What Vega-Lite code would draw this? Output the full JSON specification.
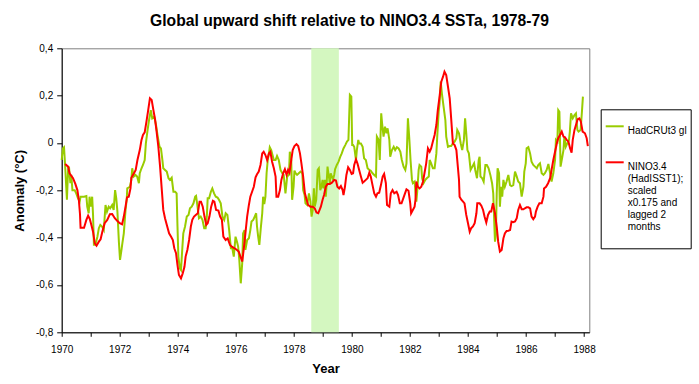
{
  "$schema": "https://vega.github.io/schema/vega-lite/v6.json",
  "width": 527.6,
  "height": 284,
  "autosize": "none",
  "padding": {"left": 61.7, "top": 48.3, "right": 109.7, "bottom": 51.7},
  "background": "white",
  "title": {"text": "Global upward shift relative to NINO3.4 SSTa, 1978-79", "font": "Liberation Sans", "fontSize": 15.7, "fontWeight": "bold", "color": "black", "anchor": "middle", "frame": "group", "dx": 24, "offset": 14},
  "config": {
    "view": {"stroke": "#808080", "strokeWidth": 1},
    "font": "Liberation Sans",
    "axis": {"domainColor": "black", "tickColor": "black", "labelColor": "black", "titleColor": "black", "grid": false, "labelFont": "Liberation Sans", "labelFontSize": 10, "titleFont": "Liberation Sans", "titleFontSize": 13, "titleFontWeight": "bold"}
  },
  "datasets": {
    "band": [{"start": 1978.6, "end": 1979.55}],
    "had": [
      {"t":1970.00,"v":-0.072},{"t":1970.04,"v":-0.023},{"t":1970.08,"v":-0.018},{"t":1970.12,"v":-0.10},{"t":1970.18,"v":-0.24},{"t":1970.22,"v":-0.114},{"t":1970.25,"v":-0.10},{"t":1970.30,"v":-0.17},{"t":1970.33,"v":-0.135},{"t":1970.37,"v":-0.20},{"t":1970.45,"v":-0.20},{"t":1970.50,"v":-0.213},{"t":1970.56,"v":-0.233},{"t":1970.62,"v":-0.248},{"t":1970.65,"v":-0.227},{"t":1970.77,"v":-0.227},{"t":1970.85,"v":-0.224},{"t":1970.88,"v":-0.269},{"t":1970.93,"v":-0.297},{"t":1970.96,"v":-0.227},{"t":1971.00,"v":-0.269},{"t":1971.05,"v":-0.227},{"t":1971.08,"v":-0.304},{"t":1971.11,"v":-0.43},{"t":1971.16,"v":-0.43},{"t":1971.23,"v":-0.396},{"t":1971.28,"v":-0.36},{"t":1971.33,"v":-0.346},{"t":1971.39,"v":-0.353},{"t":1971.45,"v":-0.368},{"t":1971.51,"v":-0.262},{"t":1971.56,"v":-0.29},{"t":1971.62,"v":-0.269},{"t":1971.67,"v":-0.276},{"t":1971.74,"v":-0.262},{"t":1971.79,"v":-0.283},{"t":1971.84,"v":-0.199},{"t":1971.88,"v":-0.234},{"t":1971.92,"v":-0.29},{"t":1971.97,"v":-0.417},{"t":1972.01,"v":-0.494},{"t":1972.06,"v":-0.452},{"t":1972.09,"v":-0.424},{"t":1972.14,"v":-0.382},{"t":1972.20,"v":-0.283},{"t":1972.24,"v":-0.24},{"t":1972.26,"v":-0.192},{"t":1972.35,"v":-0.185},{"t":1972.40,"v":-0.156},{"t":1972.43,"v":-0.107},{"t":1972.48,"v":-0.142},{"t":1972.54,"v":-0.135},{"t":1972.60,"v":-0.142},{"t":1972.66,"v":-0.17},{"t":1972.69,"v":-0.128},{"t":1972.75,"v":-0.107},{"t":1972.80,"v":-0.093},{"t":1972.86,"v":-0.072},
      {"t":1972.90,"v":-0.002},{"t":1972.96,"v":0.055},{"t":1973.01,"v":0.097},{"t":1973.07,"v":0.139},{"t":1973.12,"v":0.104},{"t":1973.19,"v":0.111},{"t":1973.25,"v":0.076},{"t":1973.31,"v":0.027},{"t":1973.37,"v":-0.016},{"t":1973.42,"v":-0.023},{"t":1973.47,"v":-0.072},{"t":1973.50,"v":-0.107},{"t":1973.56,"v":-0.114},{"t":1973.62,"v":-0.121},{"t":1973.68,"v":-0.149},{"t":1973.73,"v":-0.156},{"t":1973.79,"v":-0.147},{"t":1973.85,"v":-0.206},{"t":1973.91,"v":-0.206},{"t":1973.96,"v":-0.213},{"t":1973.99,"v":-0.353},{"t":1974.02,"v":-0.48},{"t":1974.07,"v":-0.53},{"t":1974.11,"v":-0.537},{"t":1974.16,"v":-0.438},{"t":1974.19,"v":-0.382},{"t":1974.25,"v":-0.353},{"t":1974.31,"v":-0.311},{"t":1974.37,"v":-0.304},{"t":1974.42,"v":-0.276},{"t":1974.48,"v":-0.269},{"t":1974.54,"v":-0.255},{"t":1974.60,"v":-0.227},{"t":1974.63,"v":-0.224},{"t":1974.68,"v":-0.269},{"t":1974.73,"v":-0.318},{"t":1974.79,"v":-0.311},{"t":1974.85,"v":-0.325},{"t":1974.91,"v":-0.36},{"t":1974.96,"v":-0.36},{"t":1975.00,"v":-0.311},{"t":1975.03,"v":-0.234},{"t":1975.08,"v":-0.234},{"t":1975.14,"v":-0.206},{"t":1975.19,"v":-0.192},{"t":1975.25,"v":-0.213},{"t":1975.31,"v":-0.227},{"t":1975.37,"v":-0.231},{"t":1975.42,"v":-0.24},{"t":1975.48,"v":-0.255},{"t":1975.54,"v":-0.311},{"t":1975.60,"v":-0.325},{"t":1975.65,"v":-0.297},{"t":1975.71,"v":-0.304},{"t":1975.77,"v":-0.368},{"t":1975.83,"v":-0.445},{"t":1975.88,"v":-0.445},
      {"t":1975.93,"v":-0.48},{"t":1975.99,"v":-0.396},{"t":1976.04,"v":-0.417},{"t":1976.08,"v":-0.438},{"t":1976.12,"v":-0.494},{"t":1976.17,"v":-0.593},{"t":1976.22,"v":-0.508},{"t":1976.25,"v":-0.382},{"t":1976.30,"v":-0.368},{"t":1976.33,"v":-0.452},{"t":1976.39,"v":-0.41},{"t":1976.45,"v":-0.403},{"t":1976.50,"v":-0.368},{"t":1976.54,"v":-0.332},{"t":1976.60,"v":-0.325},{"t":1976.65,"v":-0.311},{"t":1976.70,"v":-0.297},{"t":1976.73,"v":-0.353},{"t":1976.77,"v":-0.396},{"t":1976.81,"v":-0.431},{"t":1976.86,"v":-0.36},{"t":1976.91,"v":-0.297},{"t":1976.94,"v":-0.227},{"t":1976.98,"v":-0.258},{"t":1977.02,"v":-0.227},{"t":1977.06,"v":-0.128},{"t":1977.10,"v":-0.072},{"t":1977.14,"v":-0.044},{"t":1977.17,"v":-0.018},{"t":1977.22,"v":-0.03},{"t":1977.25,"v":-0.044},{"t":1977.31,"v":-0.072},{"t":1977.37,"v":-0.072},{"t":1977.42,"v":-0.055},{"t":1977.48,"v":-0.072},{"t":1977.54,"v":-0.114},{"t":1977.60,"v":-0.128},{"t":1977.65,"v":-0.135},{"t":1977.71,"v":-0.213},{"t":1977.77,"v":-0.142},{"t":1977.83,"v":-0.135},{"t":1977.86,"v":-0.037},{"t":1977.91,"v":-0.072},{"t":1977.94,"v":-0.24},{"t":1977.99,"v":-0.185},{"t":1978.02,"v":-0.117},{"t":1978.06,"v":-0.128},{"t":1978.11,"v":-0.135},{"t":1978.17,"v":-0.128},{"t":1978.23,"v":-0.121},{"t":1978.29,"v":-0.128},{"t":1978.32,"v":-0.199},{"t":1978.37,"v":-0.22},{"t":1978.40,"v":-0.255},{"t":1978.46,"v":-0.262},{"t":1978.52,"v":-0.213},{"t":1978.57,"v":-0.248},{"t":1978.61,"v":-0.311},{"t":1978.65,"v":-0.283},{"t":1978.69,"v":-0.192},{"t":1978.72,"v":-0.269},{"t":1978.77,"v":-0.24},{"t":1978.82,"v":-0.114},{"t":1978.86,"v":-0.107},
      {"t":1978.91,"v":-0.199},{"t":1978.95,"v":-0.185},{"t":1978.99,"v":-0.156},{"t":1979.02,"v":-0.192},{"t":1979.07,"v":-0.156},{"t":1979.10,"v":-0.227},{"t":1979.13,"v":-0.17},{"t":1979.16,"v":-0.10},{"t":1979.19,"v":-0.128},{"t":1979.24,"v":-0.17},{"t":1979.27,"v":-0.128},{"t":1979.31,"v":-0.142},{"t":1979.35,"v":-0.153},{"t":1979.39,"v":-0.135},{"t":1979.42,"v":-0.111},{"t":1979.48,"v":-0.093},{"t":1979.54,"v":-0.079},{"t":1979.60,"v":-0.058},{"t":1979.65,"v":-0.044},{"t":1979.71,"v":-0.023},{"t":1979.77,"v":-0.009},{"t":1979.83,"v":0.006},{"t":1979.88,"v":0.013},{"t":1979.93,"v":0.203},{"t":1979.98,"v":0.196},{"t":1980.01,"v":-0.009},{"t":1980.04,"v":-0.009},{"t":1980.08,"v":-0.016},{"t":1980.14,"v":-0.072},{"t":1980.17,"v":-0.03},{"t":1980.22,"v":0.013},{"t":1980.25,"v":-0.002},{"t":1980.31,"v":-0.002},{"t":1980.37,"v":-0.016},{"t":1980.42,"v":-0.065},{"t":1980.48,"v":-0.072},{"t":1980.54,"v":-0.107},{"t":1980.60,"v":-0.114},{"t":1980.65,"v":-0.117},{"t":1980.71,"v":-0.128},{"t":1980.77,"v":-0.135},{"t":1980.83,"v":-0.142},{"t":1980.86,"v":0.027},{"t":1980.92,"v":0.013},{"t":1980.96,"v":-0.072},{"t":1981.01,"v":0.125},{"t":1981.04,"v":0.083},{"t":1981.09,"v":0.027},{"t":1981.14,"v":0.069},{"t":1981.19,"v":0.041},{"t":1981.23,"v":0.062},{"t":1981.29,"v":0.013},{"t":1981.32,"v":-0.058},{"t":1981.38,"v":-0.03},{"t":1981.44,"v":-0.016},{"t":1981.49,"v":-0.03},{"t":1981.55,"v":-0.018},{"t":1981.61,"v":-0.023},{"t":1981.67,"v":-0.037},{"t":1981.72,"v":-0.072},{"t":1981.78,"v":-0.10},{"t":1981.84,"v":-0.114},{"t":1981.88,"v":-0.086},{"t":1981.93,"v":0.104},{"t":1981.98,"v":0.013},
      {"t":1982.02,"v":-0.072},{"t":1982.07,"v":-0.156},{"t":1982.10,"v":-0.17},{"t":1982.16,"v":-0.163},{"t":1982.22,"v":-0.248},{"t":1982.25,"v":-0.206},{"t":1982.30,"v":-0.114},{"t":1982.33,"v":-0.093},{"t":1982.39,"v":-0.10},{"t":1982.42,"v":-0.149},{"t":1982.47,"v":-0.17},{"t":1982.53,"v":-0.156},{"t":1982.58,"v":-0.149},{"t":1982.65,"v":-0.142},{"t":1982.68,"v":-0.072},{"t":1982.73,"v":-0.086},{"t":1982.79,"v":-0.107},{"t":1982.85,"v":-0.107},{"t":1982.91,"v":-0.044},{"t":1982.94,"v":0.027},{"t":1982.99,"v":0.132},{"t":1983.02,"v":0.167},{"t":1983.06,"v":0.259},{"t":1983.10,"v":0.21},{"t":1983.16,"v":0.153},{"t":1983.22,"v":0.097},{"t":1983.25,"v":0.027},{"t":1983.31,"v":-0.016},{"t":1983.37,"v":-0.013},{"t":1983.42,"v":-0.013},{"t":1983.48,"v":-0.002},{"t":1983.54,"v":0.006},{"t":1983.60,"v":0.02},{"t":1983.63,"v":0.055},{"t":1983.69,"v":0.041},{"t":1983.75,"v":-0.002},{"t":1983.80,"v":-0.03},{"t":1983.86,"v":0.013},{"t":1983.90,"v":0.104},{"t":1983.94,"v":0.041},{"t":1983.98,"v":-0.03},{"t":1984.03,"v":-0.044},{"t":1984.09,"v":-0.114},{"t":1984.15,"v":-0.10},{"t":1984.21,"v":-0.086},{"t":1984.25,"v":-0.114},{"t":1984.31,"v":-0.149},{"t":1984.37,"v":-0.072},{"t":1984.40,"v":-0.058},{"t":1984.43,"v":-0.142},{"t":1984.49,"v":-0.149},{"t":1984.54,"v":-0.163},{"t":1984.60,"v":-0.093},{"t":1984.65,"v":-0.093},{"t":1984.71,"v":-0.107},{"t":1984.77,"v":-0.135},{"t":1984.83,"v":-0.17},
      {"t":1984.87,"v":-0.213},{"t":1984.91,"v":-0.353},{"t":1984.93,"v":-0.417},{"t":1984.96,"v":-0.389},{"t":1984.99,"v":-0.213},{"t":1985.02,"v":-0.107},{"t":1985.07,"v":-0.128},{"t":1985.10,"v":-0.269},{"t":1985.14,"v":-0.185},{"t":1985.18,"v":-0.227},{"t":1985.22,"v":-0.156},{"t":1985.27,"v":-0.185},{"t":1985.33,"v":-0.163},{"t":1985.39,"v":-0.135},{"t":1985.45,"v":-0.178},{"t":1985.50,"v":-0.182},{"t":1985.56,"v":-0.178},{"t":1985.62,"v":-0.121},{"t":1985.68,"v":-0.142},{"t":1985.73,"v":-0.163},{"t":1985.79,"v":-0.17},{"t":1985.85,"v":-0.227},{"t":1985.91,"v":-0.185},{"t":1985.94,"v":-0.121},{"t":1985.99,"v":-0.086},{"t":1986.02,"v":-0.023},{"t":1986.08,"v":-0.018},{"t":1986.14,"v":-0.044},{"t":1986.19,"v":-0.079},{"t":1986.25,"v":-0.093},{"t":1986.31,"v":-0.10},{"t":1986.37,"v":-0.107},{"t":1986.42,"v":-0.093},{"t":1986.48,"v":-0.086},{"t":1986.54,"v":-0.128},{"t":1986.60,"v":-0.135},{"t":1986.65,"v":-0.128},{"t":1986.71,"v":-0.114},{"t":1986.77,"v":-0.089},{"t":1986.83,"v":-0.128},{"t":1986.88,"v":-0.163},{"t":1986.94,"v":-0.128},{"t":1987.00,"v":-0.072},{"t":1987.03,"v":0.013},{"t":1987.08,"v":0.006},{"t":1987.11,"v":0.139},{"t":1987.15,"v":0.132},{"t":1987.19,"v":-0.10},{"t":1987.23,"v":-0.072},{"t":1987.29,"v":-0.03},{"t":1987.32,"v":0.027},{"t":1987.37,"v":-0.016},{"t":1987.42,"v":-0.002},{"t":1987.48,"v":0.013},{"t":1987.51,"v":0.048},{"t":1987.55,"v":0.125},{"t":1987.61,"v":0.104},{"t":1987.67,"v":0.118},{"t":1987.72,"v":0.125},{"t":1987.77,"v":0.055},{"t":1987.81,"v":0.048},{"t":1987.88,"v":0.055},{"t":1987.93,"v":0.139},{"t":1987.96,"v":0.196}
    ],
    "nino": [
      {"t":1970.12,"v":-0.089},{"t":1970.22,"v":-0.10},{"t":1970.27,"v":-0.128},{"t":1970.39,"v":-0.149},{"t":1970.47,"v":-0.173},{"t":1970.54,"v":-0.199},{"t":1970.59,"v":-0.24},{"t":1970.63,"v":-0.30},{"t":1970.65,"v":-0.358},{"t":1970.77,"v":-0.358},{"t":1970.85,"v":-0.325},{"t":1970.91,"v":-0.307},{"t":1970.97,"v":-0.322},{"t":1971.02,"v":-0.346},{"t":1971.08,"v":-0.375},{"t":1971.14,"v":-0.424},{"t":1971.20,"v":-0.434},{"t":1971.28,"v":-0.417},{"t":1971.34,"v":-0.407},{"t":1971.40,"v":-0.375},{"t":1971.48,"v":-0.339},{"t":1971.57,"v":-0.325},{"t":1971.66,"v":-0.301},{"t":1971.74,"v":-0.30},{"t":1971.83,"v":-0.318},{"t":1971.92,"v":-0.33},{"t":1972.00,"v":-0.339},{"t":1972.08,"v":-0.344},{"t":1972.14,"v":-0.311},{"t":1972.20,"v":-0.269},{"t":1972.25,"v":-0.23},{"t":1972.31,"v":-0.227},{"t":1972.37,"v":-0.192},{"t":1972.40,"v":-0.147},{"t":1972.49,"v":-0.128},{"t":1972.55,"v":-0.114},{"t":1972.61,"v":-0.072},{"t":1972.69,"v":-0.03},{"t":1972.75,"v":0.013},{"t":1972.80,"v":0.034},{"t":1972.86,"v":0.045},{"t":1972.92,"v":0.09},{"t":1972.97,"v":0.13},
      {"t":1973.04,"v":0.189},{"t":1973.10,"v":0.182},{"t":1973.16,"v":0.139},{"t":1973.22,"v":0.097},{"t":1973.27,"v":0.048},{"t":1973.33,"v":-0.016},{"t":1973.39,"v":-0.10},{"t":1973.45,"v":-0.199},{"t":1973.50,"v":-0.283},{"t":1973.56,"v":-0.318},{"t":1973.62,"v":-0.346},{"t":1973.70,"v":-0.382},{"t":1973.77,"v":-0.396},{"t":1973.83,"v":-0.41},{"t":1973.88,"v":-0.445},{"t":1973.94,"v":-0.466},{"t":1973.99,"v":-0.516},{"t":1974.04,"v":-0.558},{"t":1974.11,"v":-0.572},{"t":1974.17,"v":-0.551},{"t":1974.23,"v":-0.523},{"t":1974.27,"v":-0.48},{"t":1974.33,"v":-0.452},{"t":1974.39,"v":-0.41},{"t":1974.45,"v":-0.353},{"t":1974.50,"v":-0.325},{"t":1974.56,"v":-0.311},{"t":1974.62,"v":-0.304},{"t":1974.69,"v":-0.297},{"t":1974.75,"v":-0.248},{"t":1974.80,"v":-0.248},{"t":1974.86,"v":-0.269},{"t":1974.92,"v":-0.311},{"t":1974.98,"v":-0.346},{"t":1975.03,"v":-0.339},{"t":1975.09,"v":-0.311},{"t":1975.15,"v":-0.269},{"t":1975.21,"v":-0.244},{"t":1975.26,"v":-0.248},{"t":1975.32,"v":-0.283},{"t":1975.40,"v":-0.286},{"t":1975.46,"v":-0.311},{"t":1975.52,"v":-0.325},{"t":1975.57,"v":-0.396},{"t":1975.65,"v":-0.41},{"t":1975.72,"v":-0.403},{"t":1975.80,"v":-0.431},{"t":1975.86,"v":-0.438},
      {"t":1975.96,"v":-0.445},{"t":1976.04,"v":-0.452},{"t":1976.10,"v":-0.459},{"t":1976.16,"v":-0.48},{"t":1976.22,"v":-0.501},{"t":1976.27,"v":-0.452},{"t":1976.33,"v":-0.382},{"t":1976.39,"v":-0.311},{"t":1976.45,"v":-0.262},{"t":1976.50,"v":-0.227},{"t":1976.56,"v":-0.206},{"t":1976.62,"v":-0.185},{"t":1976.68,"v":-0.145},{"t":1976.73,"v":-0.132},{"t":1976.79,"v":-0.121},{"t":1976.85,"v":-0.093},{"t":1976.91,"v":-0.044},{"t":1976.96,"v":-0.037},{"t":1977.02,"v":-0.051},{"t":1977.08,"v":-0.072},{"t":1977.14,"v":-0.044},{"t":1977.19,"v":-0.037},{"t":1977.25,"v":-0.079},{"t":1977.31,"v":-0.107},{"t":1977.37,"v":-0.142},{"t":1977.40,"v":-0.227},{"t":1977.46,"v":-0.227},{"t":1977.52,"v":-0.199},{"t":1977.57,"v":-0.156},{"t":1977.63,"v":-0.128},{"t":1977.69,"v":-0.111},{"t":1977.75,"v":-0.135},{"t":1977.80,"v":-0.114},{"t":1977.85,"v":-0.125},{"t":1977.91,"v":-0.072},{"t":1977.96,"v":-0.03},{"t":1978.02,"v":-0.013},{"t":1978.09,"v":-0.005},{"t":1978.15,"v":-0.013},{"t":1978.21,"v":-0.044},{"t":1978.26,"v":-0.086},{"t":1978.32,"v":-0.142},{"t":1978.38,"v":-0.213},{"t":1978.44,"v":-0.24},{"t":1978.49,"v":-0.262},{"t":1978.57,"v":-0.269},{"t":1978.65,"v":-0.269},{"t":1978.72,"v":-0.276},{"t":1978.78,"v":-0.294},{"t":1978.84,"v":-0.297},
      {"t":1978.93,"v":-0.269},{"t":1978.99,"v":-0.24},{"t":1979.04,"v":-0.22},{"t":1979.10,"v":-0.185},{"t":1979.16,"v":-0.173},{"t":1979.24,"v":-0.173},{"t":1979.31,"v":-0.168},{"t":1979.39,"v":-0.156},{"t":1979.45,"v":-0.159},{"t":1979.50,"v":-0.185},{"t":1979.56,"v":-0.192},{"t":1979.62,"v":-0.182},{"t":1979.68,"v":-0.199},{"t":1979.71,"v":-0.22},{"t":1979.76,"v":-0.185},{"t":1979.81,"v":-0.135},{"t":1979.87,"v":-0.103},{"t":1979.93,"v":-0.114},{"t":1979.99,"v":-0.131},{"t":1980.04,"v":-0.128},{"t":1980.08,"v":-0.093},{"t":1980.14,"v":-0.069},{"t":1980.19,"v":-0.086},{"t":1980.25,"v":-0.114},{"t":1980.31,"v":-0.142},{"t":1980.37,"v":-0.168},{"t":1980.42,"v":-0.163},{"t":1980.48,"v":-0.156},{"t":1980.54,"v":-0.149},{"t":1980.60,"v":-0.125},{"t":1980.65,"v":-0.142},{"t":1980.71,"v":-0.178},{"t":1980.77,"v":-0.213},{"t":1980.83,"v":-0.227},{"t":1980.88,"v":-0.213},{"t":1980.94,"v":-0.21},{"t":1981.00,"v":-0.178},{"t":1981.06,"v":-0.142},{"t":1981.11,"v":-0.131},{"t":1981.17,"v":-0.17},{"t":1981.21,"v":-0.262},{"t":1981.29,"v":-0.269},{"t":1981.34,"v":-0.213},{"t":1981.40,"v":-0.199},{"t":1981.46,"v":-0.213},{"t":1981.54,"v":-0.206},{"t":1981.59,"v":-0.22},{"t":1981.65,"v":-0.255},{"t":1981.71,"v":-0.255},{"t":1981.77,"v":-0.234},{"t":1981.83,"v":-0.213},{"t":1981.88,"v":-0.196},
      {"t":1981.95,"v":-0.202},{"t":1982.01,"v":-0.255},{"t":1982.04,"v":-0.297},{"t":1982.10,"v":-0.283},{"t":1982.16,"v":-0.269},{"t":1982.19,"v":-0.24},{"t":1982.22,"v":-0.163},{"t":1982.27,"v":-0.185},{"t":1982.33,"v":-0.192},{"t":1982.39,"v":-0.185},{"t":1982.45,"v":-0.163},{"t":1982.50,"v":-0.128},{"t":1982.56,"v":-0.086},{"t":1982.62,"v":-0.023},{"t":1982.68,"v":-0.037},{"t":1982.73,"v":-0.023},{"t":1982.79,"v":0.006},{"t":1982.85,"v":0.034},{"t":1982.91,"v":0.076},{"t":1982.96,"v":0.139},{"t":1983.02,"v":0.196},{"t":1983.08,"v":0.259},{"t":1983.14,"v":0.28},{"t":1983.19,"v":0.301},{"t":1983.25,"v":0.287},{"t":1983.31,"v":0.238},{"t":1983.37,"v":0.189},{"t":1983.42,"v":0.104},{"t":1983.48,"v":-0.002},{"t":1983.54,"v":-0.009},{"t":1983.60,"v":-0.03},{"t":1983.65,"v":-0.10},{"t":1983.69,"v":-0.156},{"t":1983.71,"v":-0.227},{"t":1983.77,"v":-0.24},{"t":1983.83,"v":-0.248},{"t":1983.88,"v":-0.255},{"t":1983.94,"v":-0.304},{"t":1984.00,"v":-0.339},{"t":1984.06,"v":-0.375},{"t":1984.11,"v":-0.36},{"t":1984.17,"v":-0.353},{"t":1984.23,"v":-0.339},{"t":1984.29,"v":-0.297},{"t":1984.32,"v":-0.255},{"t":1984.40,"v":-0.255},{"t":1984.46,"v":-0.265},{"t":1984.52,"v":-0.283},{"t":1984.57,"v":-0.311},{"t":1984.63,"v":-0.336},{"t":1984.69,"v":-0.304},{"t":1984.75,"v":-0.29},{"t":1984.80,"v":-0.29},{"t":1984.86,"v":-0.255},
      {"t":1984.93,"v":-0.297},{"t":1984.99,"v":-0.353},{"t":1985.04,"v":-0.417},{"t":1985.10,"v":-0.459},{"t":1985.16,"v":-0.452},{"t":1985.22,"v":-0.403},{"t":1985.27,"v":-0.382},{"t":1985.33,"v":-0.372},{"t":1985.39,"v":-0.371},{"t":1985.45,"v":-0.368},{"t":1985.50,"v":-0.332},{"t":1985.56,"v":-0.335},{"t":1985.62,"v":-0.332},{"t":1985.68,"v":-0.318},{"t":1985.73,"v":-0.283},{"t":1985.79,"v":-0.262},{"t":1985.85,"v":-0.28},{"t":1985.91,"v":-0.28},{"t":1985.96,"v":-0.276},{"t":1986.02,"v":-0.272},{"t":1986.08,"v":-0.272},{"t":1986.14,"v":-0.276},{"t":1986.19,"v":-0.311},{"t":1986.25,"v":-0.322},{"t":1986.31,"v":-0.311},{"t":1986.34,"v":-0.29},{"t":1986.40,"v":-0.269},{"t":1986.46,"v":-0.255},{"t":1986.54,"v":-0.255},{"t":1986.60,"v":-0.227},{"t":1986.62,"v":-0.192},{"t":1986.69,"v":-0.185},{"t":1986.76,"v":-0.17},{"t":1986.83,"v":-0.149},{"t":1986.88,"v":-0.114},{"t":1986.94,"v":-0.072},{"t":1987.00,"v":-0.037},{"t":1987.06,"v":-0.002},{"t":1987.11,"v":0.02},{"t":1987.17,"v":0.034},{"t":1987.23,"v":0.048},{"t":1987.29,"v":0.027},{"t":1987.34,"v":0.024},{"t":1987.40,"v":0.013},{"t":1987.46,"v":0.006},{"t":1987.52,"v":-0.023},{"t":1987.57,"v":-0.041},{"t":1987.61,"v":0.013},{"t":1987.67,"v":0.055},{"t":1987.72,"v":0.076},{"t":1987.78,"v":0.1},{"t":1987.84,"v":0.104},{"t":1987.89,"v":0.09},{"t":1987.95,"v":0.048},{"t":1988.03,"v":0.041},{"t":1988.09,"v":0.02},{"t":1988.13,"v":-0.013}
    ]
  },
  "encoding": {
    "x": {"type": "quantitative", "scale": {"domain": [1970, 1988.18], "nice": false, "zero": false},
      "axis": {"title": "Year", "values": [1970,1971,1972,1973,1974,1975,1976,1977,1978,1979,1980,1981,1982,1983,1984,1985,1986,1987,1988], "labelExpr": "datum.value % 2 == 0 ? toString(datum.value) : ''", "tickSize": 4, "labelPadding": 8, "titlePadding": 8, "labelFlush": false, "labelOverlap": false}},
    "y": {"type": "quantitative", "scale": {"domain": [-0.8, 0.4], "nice": false, "zero": false},
      "axis": {"title": "Anomaly (°C)", "values": [-0.8, -0.6, -0.4, -0.2, 0, 0.2, 0.4], "labelExpr": "replace(toString(datum.value), '.', ',')", "tickSize": 5, "labelPadding": 4, "titlePadding": 9, "labelFlush": false}}
  },
  "layer": [
    {"data": {"name": "band"}, "mark": {"type": "rect", "color": "#d4f7c0"},
     "encoding": {"x": {"field": "start", "type": "quantitative"}, "x2": {"field": "end"}}},
    {"data": {"name": "had"}, "mark": {"type": "line", "strokeWidth": 2, "interpolate": "linear"},
     "encoding": {"x": {"field": "t", "type": "quantitative"}, "y": {"field": "v", "type": "quantitative"},
       "color": {"datum": "HadCRUt3 gl", "type": "nominal",
         "scale": {"domain": ["HadCRUt3 gl", "NINO3.4 (HadISST1); scaled x0.175 and lagged 2 months"], "range": ["#99cc00", "#ff0000"]},
         "legend": {"orient": "none", "legendX": 539, "legendY": 61, "title": " ", "titleFontSize": 1, "titlePadding": 2, "strokeColor": "black", "fillColor": "white", "padding": 4,
           "symbolType": "stroke", "symbolSize": 324, "symbolStrokeWidth": 2, "labelFont": "Liberation Sans", "labelFontSize": 10, "labelColor": "black",
           "labelLimit": 200, "labelOffset": 3, "rowPadding": 16, "labelBaseline": "top",
           "labelExpr": "datum.label == 'HadCRUt3 gl' ? datum.label : ['NINO3.4', '(HadISST1);', 'scaled', 'x0.175 and', 'lagged 2', 'months', '']"}}}},
    {"data": {"name": "nino"}, "mark": {"type": "line", "strokeWidth": 2, "interpolate": "linear"},
     "encoding": {"x": {"field": "t", "type": "quantitative"}, "y": {"field": "v", "type": "quantitative"},
       "color": {"datum": "NINO3.4 (HadISST1); scaled x0.175 and lagged 2 months", "type": "nominal"}}}
  ]
}
